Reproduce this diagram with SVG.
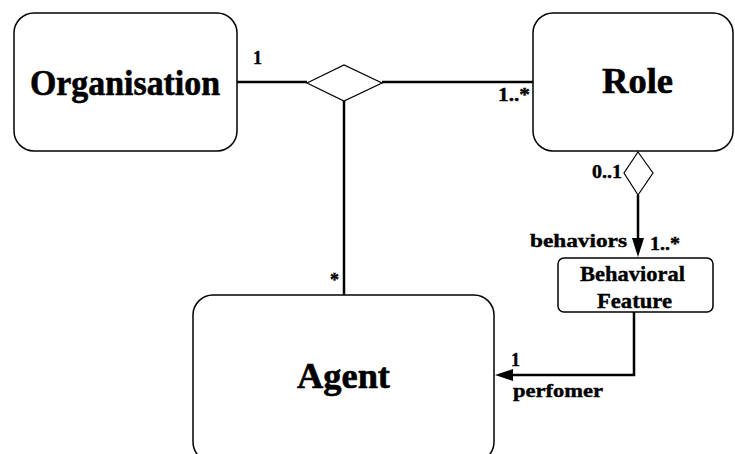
<svg xmlns="http://www.w3.org/2000/svg" width="735" height="454" viewBox="0 0 735 454">
<defs>
<style>
.box{fill:#fff;stroke:#000;stroke-width:1.5}
.big{font-family:"Liberation Serif","Times New Roman",serif;font-weight:bold;font-size:36px;stroke:#000;stroke-width:0.6}
.lbl{font-family:"Liberation Serif","Times New Roman",serif;font-weight:bold;font-size:18px;stroke:#000;stroke-width:0.4}
.mid{font-family:"Liberation Serif","Times New Roman",serif;font-weight:bold;font-size:22px;stroke:#000;stroke-width:0.4}
.ln{fill:none;stroke:#000;stroke-width:2.5}
.dia{fill:#fff;stroke:#000;stroke-width:1.2}
</style>
</defs>
<rect width="735" height="454" fill="#fff"/>
<g id="connectors">
<line class="ln" x1="237" y1="82" x2="307" y2="82"/>
<line class="ln" x1="382" y1="82" x2="533" y2="82"/>
<line class="ln" x1="344" y1="101" x2="344" y2="295"/>
<polygon class="dia" points="307,83 344,65 382,83 344,101"/>
<line class="ln" x1="638" y1="195" x2="638" y2="244"/>
<polygon class="dia" points="638,152 653,173 638,195 624,173"/>
<polygon points="632,238 644,238 638,257" fill="#000"/>
<polyline class="ln" points="634,312 634,375 508,375"/>
<polygon points="495,375 513,369 513,381" fill="#000"/>
<text class="lbl" x="253" y="64">1</text>
<text class="lbl" x="498" y="101" textLength="32" lengthAdjust="spacingAndGlyphs">1..*</text>
<text class="lbl" x="330" y="286">*</text>
<text class="lbl" x="592" y="178" textLength="30" lengthAdjust="spacingAndGlyphs">0..1</text>
<text class="lbl" x="530" y="247" textLength="97" lengthAdjust="spacingAndGlyphs">behaviors</text>
<text class="lbl" x="650" y="250" textLength="30" lengthAdjust="spacingAndGlyphs">1..*</text>
<text class="lbl" x="511" y="366">1</text>
<text class="lbl" x="513" y="397" textLength="90" lengthAdjust="spacingAndGlyphs">perfomer</text>
</g>
<g id="organisation">
<rect class="box" x="14" y="13" width="223" height="138" rx="20"/>
<text class="big" x="30" y="95" textLength="190" lengthAdjust="spacingAndGlyphs">Organisation</text>
</g>
<g id="role">
<rect class="box" x="533" y="13" width="200" height="138" rx="20"/>
<text class="big" x="602" y="93" textLength="71" lengthAdjust="spacingAndGlyphs">Role</text>
</g>
<g id="behavioral-feature">
<rect class="box" x="558" y="258" width="155" height="54" rx="6"/>
<text class="mid" x="580" y="281" textLength="105" lengthAdjust="spacingAndGlyphs">Behavioral</text>
<text class="mid" x="597" y="308" textLength="75" lengthAdjust="spacingAndGlyphs">Feature</text>
</g>
<g id="agent">
<rect class="box" x="193" y="295" width="301" height="167" rx="20"/>
<text class="big" x="297" y="388" textLength="93" lengthAdjust="spacingAndGlyphs">Agent</text>
</g>
</svg>
